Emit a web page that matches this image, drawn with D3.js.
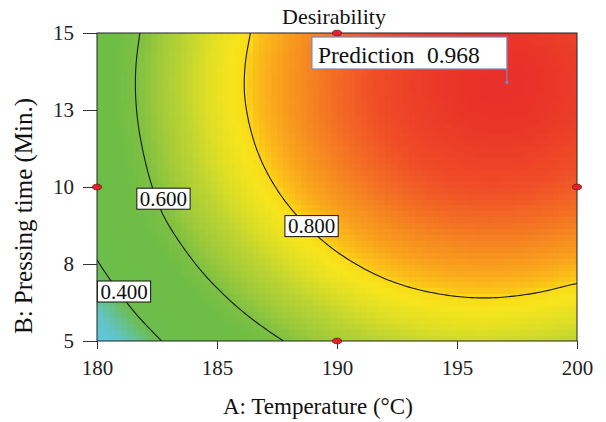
<!DOCTYPE html>
<html><head><meta charset="utf-8">
<script src="https://cdn.jsdelivr.net/npm/d3@7"></script>
<style>
body{margin:0;background:#fff;}
svg{display:block;font-family:"Liberation Serif","Times New Roman",serif;}
</style></head><body><svg id="chart" width="606" height="422"></svg>
<script>
// ---- data ----
const temperature = [180,182,184,186,188,190,192,194,196,198,200];
const pressingTime = [5,6,7,8,9,10,11,12,13,14,15];
// desirability[row = pressing time][col = temperature]
const desirability = [
 [0.252,0.365,0.461,0.542,0.607,0.658,0.695,0.717,0.725,0.716,0.700],
 [0.315,0.427,0.521,0.600,0.664,0.714,0.751,0.772,0.780,0.774,0.758],
 [0.370,0.480,0.573,0.650,0.713,0.763,0.799,0.820,0.828,0.822,0.806],
 [0.416,0.524,0.616,0.693,0.755,0.804,0.839,0.860,0.869,0.865,0.850],
 [0.454,0.561,0.652,0.728,0.789,0.837,0.872,0.894,0.903,0.900,0.888],
 [0.482,0.585,0.680,0.755,0.816,0.864,0.898,0.921,0.931,0.928,0.915],
 [0.500,0.602,0.700,0.775,0.836,0.883,0.918,0.940,0.950,0.948,0.935],
 [0.512,0.614,0.712,0.788,0.849,0.896,0.930,0.952,0.963,0.962,0.949],
 [0.517,0.620,0.719,0.795,0.855,0.902,0.936,0.958,0.968,0.967,0.955],
 [0.515,0.619,0.718,0.794,0.854,0.901,0.935,0.957,0.967,0.967,0.954],
 [0.507,0.611,0.710,0.787,0.847,0.894,0.928,0.950,0.961,0.960,0.947]
];
const contourLevels = [0.4, 0.6, 0.8];
const contourLabels = ["0.400", "0.600", "0.800"];
const contourLabelTemp = [181.125, 182.77, 188.94];
const contourLabelTime = [6.607, 9.62, 8.73];
const designTemp = [180, 190, 190, 200];
const designTime = [10, 5, 15, 10];
const predictionTemp = 197.08;
const predictionTime = 13.4;
const predictionValue = 0.968;
const xTicks = [180, 185, 190, 195, 200];
const yTicks = [5, 7.5, 10, 12.5, 15];
const yTickLabels = ["5", "8", "10", "13", "15"];
const chartTitle = "Desirability";
const xTitle = "A: Temperature (\u00B0C)";
const yTitle = "B: Pressing time (Min.)";

// ---- layout ----
const FONT = "Liberation Serif";
const svg = d3.select("#chart");
const X0 = 97, X1 = 577, Y0 = 33, Y1 = 341;
const x = d3.scaleLinear().domain([180, 200]).range([X0, X1]);
const y = d3.scaleLinear().domain([5, 15]).range([Y1, Y0]);

const color = d3.scaleLinear()
  .domain([0.24,0.31,0.365,0.395,0.55,0.60,0.65,0.70,0.74,0.78,0.798,0.81,0.84,0.87,0.90,0.93,0.955,0.97])
  .range(["#5ec8e8","#62c4c8","#68c07c","#6cbd4c","#6ebd45","#7cc043","#a0ca3a","#bcd432",
          "#dcde26","#f6e41c","#f9dc18","#fbc418","#f9a41c","#f68a20","#f36c24","#f04e27","#ec3c28","#e8302a"])
  .interpolate(d3.interpolateRgb).clamp(true);

// bicubic (Catmull-Rom) reading of the grid
const nT = temperature.length, nP = pressingTime.length;
function g(i, j) {
  if (i < 0) return 2*g(0,j) - g(1,j);
  if (i > nT-1) return 2*g(nT-1,j) - g(nT-2,j);
  if (j < 0) return 2*g(i,0) - g(i,1);
  if (j > nP-1) return 2*g(i,nP-1) - g(i,nP-2);
  return desirability[j][i];
}
function cr(p0,p1,p2,p3,t){
  return 0.5*((2*p1)+(-p0+p2)*t+(2*p0-5*p1+4*p2-p3)*t*t+(-p0+3*p1-3*p2+p3)*t*t*t);
}
function sample(T, P) {
  const fx = (T - temperature[0]) / (temperature[1] - temperature[0]);
  const fy = (P - pressingTime[0]) / (pressingTime[1] - pressingTime[0]);
  const i = Math.min(Math.max(Math.floor(fx), 0), nT - 2);
  const j = Math.min(Math.max(Math.floor(fy), 0), nP - 2);
  const tx = fx - i, ty = fy - j;
  const r = [];
  for (let m = -1; m <= 2; m++) r.push(cr(g(i-1,j+m), g(i,j+m), g(i+1,j+m), g(i+2,j+m), tx));
  return cr(r[0], r[1], r[2], r[3], ty);
}

svg.append("defs").append("clipPath").attr("id","plotclip")
  .append("rect").attr("x",X0).attr("y",Y0).attr("width",X1-X0).attr("height",Y1-Y0);

// heat cells
const nCols = 80, nRows = 52;
const cells = [];
const dT = 20 / nCols, dP = 10 / nRows;
for (let r = 0; r < nRows; r++) for (let c = 0; c < nCols; c++) {
  const T0 = 180 + c*dT, P0 = 5 + r*dP;
  cells.push({T0, P0, v: sample(T0 + dT/2, P0 + dP/2)});
}
const plot = svg.append("g").attr("clip-path","url(#plotclip)");
plot.append("g").attr("shape-rendering","crispEdges").selectAll("rect").data(cells).join("rect")
  .attr("x", d => x(d.T0)).attr("y", d => y(d.P0 + dP))
  .attr("width", d => x(d.T0 + dT) - x(d.T0) + 0.7)
  .attr("height", d => y(d.P0) - y(d.P0 + dP) + 0.7)
  .attr("fill", d => color(d.v));

// contours
const gx = 161, gy = 81, sT = 20/(gx-1), sP = 10/(gy-1);
const vals = new Array(gx*gy);
for (let j = 0; j < gy; j++) for (let i = 0; i < gx; i++) vals[j*gx+i] = sample(180 + i*sT, 5 + j*sP);
const contours = d3.contours().size([gx, gy]).thresholds(contourLevels)(vals);
const proj = d3.geoTransform({point: function(cx, cy) {
  this.stream.point(x(180 + (cx - 0.5)*sT), y(5 + (cy - 0.5)*sP));
}});
const path = d3.geoPath(proj);
plot.append("g").selectAll("path").data(contours).join("path")
  .attr("d", path).attr("fill","none").attr("stroke","#1a1a1a").attr("stroke-width",1.1);

// frame
svg.append("rect").attr("x",X0).attr("y",Y0).attr("width",X1-X0).attr("height",Y1-Y0)
  .attr("fill","none").attr("stroke","#222").attr("stroke-width",1);

// axes
const xAxis = svg.append("g").attr("transform",`translate(0,${Y1})`)
  .call(d3.axisBottom(x).tickValues(xTicks).tickFormat(d3.format("d")).tickSize(8).tickPadding(11));
const yAxis = svg.append("g").attr("transform",`translate(${X0},0)`)
  .call(d3.axisLeft(y).tickValues(yTicks).tickFormat((d,i) => yTickLabels[i]).tickSize(14).tickPadding(9));
[xAxis, yAxis].forEach(a => {
  a.attr("font-family", FONT);
  a.select(".domain").remove();
  a.selectAll("line").attr("stroke","#333");
  a.selectAll("text").attr("font-family",FONT).attr("font-size",21).attr("fill","#222");
});

// contour labels
contourLabels.forEach((lab, k) => {
  const cx = x(contourLabelTemp[k]), cy = y(contourLabelTime[k]);
  const gL = svg.append("g");
  const rect = gL.append("rect");
  const t = gL.append("text").attr("x",cx).attr("y",cy+7).attr("text-anchor","middle")
    .attr("font-family",FONT).attr("font-size",21).attr("fill","#111").text(lab);
  const w = t.node().getComputedTextLength() + 6;
  rect.attr("x",cx - w/2).attr("y",cy-10.5).attr("width",w).attr("height",21)
    .attr("fill","#fff").attr("stroke","#111").attr("stroke-width",1);
});

// design points
svg.append("g").selectAll("ellipse").data(designTemp).join("ellipse")
  .attr("cx",(d)=>x(d)).attr("cy",(d,i)=>y(designTime[i]))
  .attr("rx",4.5).attr("ry",2.8).attr("fill","#e8202a").attr("stroke","#6b1a1a").attr("stroke-width",0.8);

// prediction flag
const px = x(predictionTemp), py = y(predictionTime);
svg.append("line").attr("x1",px).attr("x2",px).attr("y1",Y0+36).attr("y2",py)
  .attr("stroke","#7b86c8").attr("stroke-width",1.2);
svg.append("circle").attr("cx",px).attr("cy",py).attr("r",1.6).attr("fill","#7b86c8");
svg.append("rect").attr("x",px-195).attr("y",Y0+4).attr("width",195).attr("height",32)
  .attr("fill","#fff").attr("stroke","#7b86c8").attr("stroke-width",1.2);
svg.append("text").attr("x",px-189).attr("y",Y0+30).attr("font-family",FONT).attr("font-size",23.5).attr("fill","#111").text("Prediction");
svg.append("text").attr("x",px-80).attr("y",Y0+30).attr("font-family",FONT).attr("font-size",23.5).attr("fill","#111").text(d3.format(".3f")(predictionValue));

// titles
svg.append("text").attr("x",334).attr("y",24).attr("text-anchor","middle").attr("font-family",FONT).attr("font-size",22).attr("fill","#111").text(chartTitle);
svg.append("text").attr("x",223).attr("y",414).attr("font-family",FONT).attr("font-size",23).attr("fill","#111").text(xTitle);
svg.append("text").attr("transform","translate(32,334) rotate(-90)").attr("font-family",FONT).attr("font-size",25).attr("fill","#111").text(yTitle);
</script></body></html>
